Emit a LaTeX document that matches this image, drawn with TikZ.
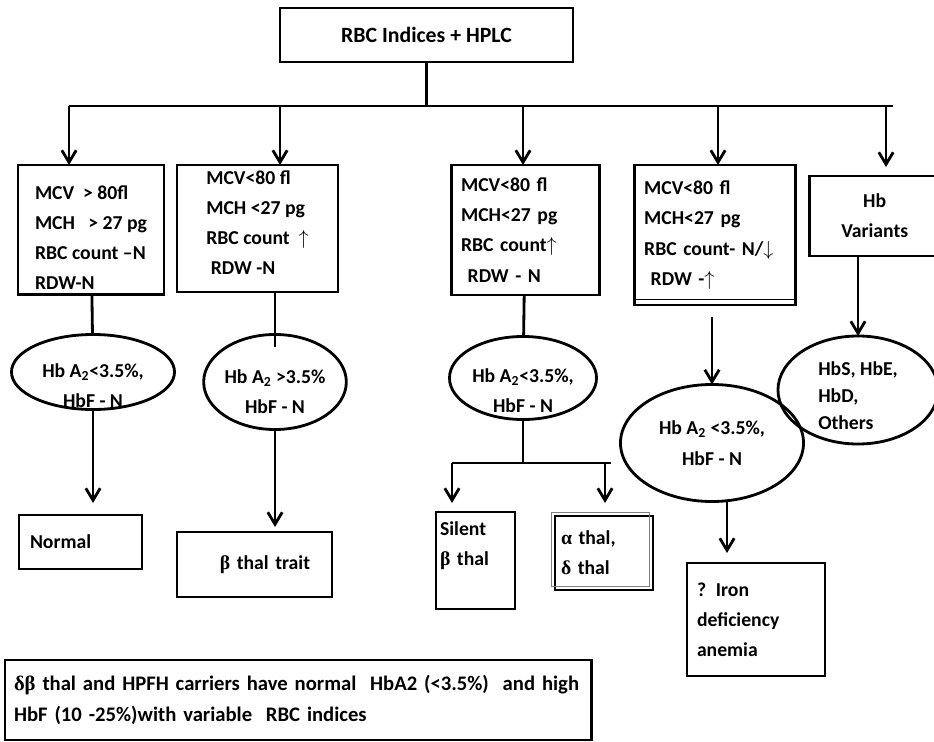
\documentclass[tikz,border=0pt]{standalone}
\usepackage{fontspec}
\setmainfont{Carlito}
\newfontfamily\grk{Liberation Serif}
\usetikzlibrary{shapes.geometric,arrows.meta,positioning}

\begin{document}
\begin{tikzpicture}[x=0.025cm,y=0.025cm,every node/.style={outer sep=0pt},line width=2pt,
		test/.style={draw,line width=2pt,align=left,anchor=north west,
			font=\fontsize{14}{21.5}\selectfont\bfseries},
		result/.style={test,inner ysep=2pt},
		oval/.style={draw,ellipse,line width=2pt,inner sep=0pt,align=center,
			font=\fontsize{14}{22}\selectfont\bfseries},
		step_arrow/.style={-{Straight Barb[length=0.3cm,width=0.36cm]}}]
		
		\useasboundingbox (0,0) rectangle (934,-742);
		
		\node[test,anchor=center,align=center,minimum width=7.325cm,minimum height=1.35cm,font=\fontsize{15.5}{20}\selectfont\bfseries] (top) at (426.5,-35) {RBC Indices + HPLC};
		
		\node[test,minimum width=3.65cm,minimum height=3cm,text height=3cm] (b1) at (18,-165) {MCV \ > 80fl\\MCH \ \ > 27 pg\\RBC count –N\\RDW-N};
		\node[test,right=0.325cm of b1.north east,anchor=north west,minimum width=4.025cm,minimum height=3.175cm,text depth=0.3cm] (b2) {MCV<80 fl\\MCH <27 pg\\RBC count \ $\uparrow$\\\ RDW -N};
		\node[test,right=2.825cm of b2.north east,anchor=north west,minimum width=3.7cm,minimum height=3.25cm,inner xsep=0.25cm,text width=3.2cm] (b3) {MCV<80 fl\\MCH<27 pg\\RBC count$\uparrow$\\\ RDW - N};
		\node[test,right=0.875cm of b3.north east,anchor=north west,minimum width=4.025cm,minimum height=3.5cm,inner xsep=0.25cm,text width=3.525cm] (b4) {MCV<80 fl\\MCH<27 pg\\RBC count- N/$\downarrow$\\\ RDW -$\uparrow$};
		\draw[line width=0.6pt] ([yshift=0.15cm]b4.south west) -- ([yshift=0.15cm]b4.south east);
		\node[test,align=center,right=0.35cm of b4.north east,anchor=north west,yshift=-0.275cm,minimum width=3.275cm,minimum height=2cm] (b5) {Hb\\Variants};
		
		% bus from the top box
		\coordinate (t1) at (69,-106);
		\coordinate (t2) at (280,-106);
		\coordinate (t3) at (523,-106);
		\coordinate (t4) at (718,-106);
		\coordinate (t5) at (886,-106);
		\coordinate (t6) at (893,-106);
		\draw (top.south) -- (top.south |- t1);
		\draw (t1) -- (t6);
		\foreach \X in {1,2,3,4}
		{
			\draw[step_arrow] (t\X) -- (t\X |- b\X.north);
		}
		\draw[step_arrow,shorten >=0.225cm] (t5) -- (t5 |- b5.north);
		
		\node[oval,minimum width=4.075cm,minimum height=1.875cm,text height=1.8cm,inner ysep=-0.6cm] (e1) at (93,-372) {Hb A\textsubscript{2}<3.5\%,\\HbF - N};
		\node[oval,minimum width=3.5cm,minimum height=2.375cm,text height=1.6cm,inner ysep=-0.5cm] (e2) at (275,-382) {Hb A\textsubscript{2} >3.5\%\\HbF - N};
		\node[oval,minimum width=3.675cm,minimum height=2.075cm,text height=1.75cm,inner ysep=-0.6cm] (e3) at (523,-378) {Hb A\textsubscript{2}<3.5\%,\\HbF - N};
		\node[oval,minimum width=4.575cm,minimum height=2.925cm] (e4) at (712,-443) {Hb A\textsubscript{2} <3.5\%,\\HbF - N};
		\node[oval,align=left,minimum width=4cm,minimum height=2.7cm,font=\fontsize{14}{19.5}\selectfont\bfseries,text height=2cm,inner ysep=-0.5cm] (e5) at (858,-390) {HbS, HbE,\\HbD,\\Others};
		
		\node[result,minimum width=3.075cm,minimum height=1.35cm,inner xsep=0.275cm,text width=2.525cm] (n1) at (19,-515) {Normal};
		\node[result,align=right,minimum width=3.875cm,minimum height=1.625cm,inner xsep=0.55cm,text width=2.775cm] (bt) at (177,-532) {{\grk β} thal trait};
		\node[result,minimum width=1.975cm,minimum height=2.425cm,inner xsep=0.1cm,inner ysep=0.23cm,text width=1.775cm,text depth=1.6cm] (sb) at (436,-512) {Silent\\{\grk β} thal};
		\node[result,minimum width=2.45cm,minimum height=1.85cm,inner xsep=0.15cm,text width=2.15cm] (ab) at (555,-516) {{\grk α} thal,\\{\grk δ} thal};
		\draw[gray,line width=0.6pt] ([shift={(-4,4)}]ab.north west) rectangle ([shift={(-4,4)}]ab.south east);
		\node[result,minimum width=3.45cm,minimum height=2.825cm,inner xsep=0.25cm,text width=2.95cm] (ib) at (687,-563) {? Iron\\deficiency\\anemia};
		\node[result,minimum width=14.65cm,minimum height=2cm,inner xsep=0.225cm,text width=14.2cm,font=\fontsize{14.7}{22.5}\selectfont\bfseries] (fb) at (5,-660) {{\grk δβ} thal and HPFH carriers have normal \ HbA2 (<3.5\%) \ and high\\HbF (10 -25\%)with variable \ RBC indices};
		
		% links below the boxes
		\draw (b1) -- (e1);
		\draw[step_arrow,shorten >=0.3cm] (e1.south) -- (e1.south |- n1.north);
		\draw (e2.north |- b2.south) -- ([yshift=-0.325cm]e2.north);
		\draw[step_arrow,shorten >=0.125cm] (e2.south) -- (e2.south |- bt.north);
		\draw (b3) -- (e3);
		\coordinate (sl) at (452,-463);
		\coordinate (sa) at (605,-463);
		\coordinate (sr) at (611,-463);
		\draw (e3.south) -- (e3.south |- sl);
		\draw (sl) -- (sr);
		\draw[step_arrow,shorten >=0.225cm] (sl) -- (sl |- sb.north);
		\draw[step_arrow,shorten >=0.325cm] (sa) -- (sa |- ab.north);
		\draw[step_arrow,shorten <=0.3cm] (e4.north |- b4.south) -- (e4.north);
		\coordinate (e4b) at ([xshift=0.375cm]e4.south);
		\draw[step_arrow,shorten >=0.25cm] (e4b) -- (e4b |- ib.north);
		\draw[step_arrow] (b5.south -| e5.north) -- (e5.north);
		
	\end{tikzpicture}
\end{document}
